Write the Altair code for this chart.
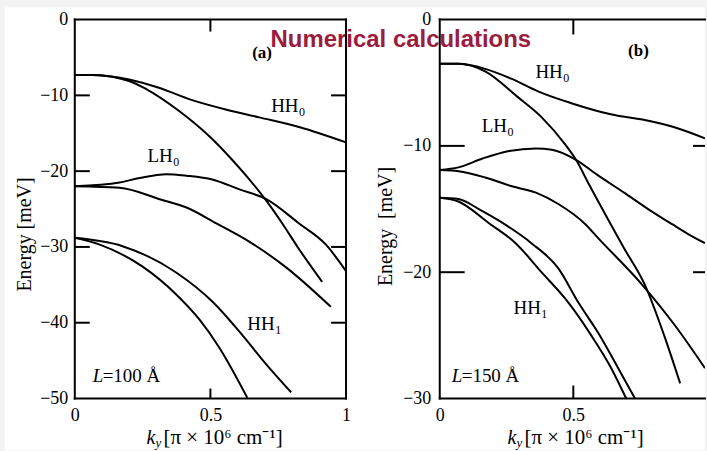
import altair as alt
import pandas as pd

SERIF = "Liberation Serif"
SANS = "Liberation Sans"

# ---------------- Panel (a): well width L = 100 Å ----------------
A_HH0_K = [0.0, 0.066, 0.20, 0.31, 0.43, 0.56, 0.68, 0.83, 1.0]
A_HH0_E = [-7.3, -7.3, -7.9, -9.0, -10.6, -11.9, -12.9, -14.2, -16.2]
A_HH0B_K = [0.0, 0.066, 0.20, 0.265, 0.386, 0.496, 0.58, 0.706, 0.765, 0.827, 0.912]
A_HH0B_E = [-7.3, -7.3, -8.1, -9.2, -12.1, -15.4, -18.5, -23.9, -26.9, -30.3, -34.6]
A_LH0_K = [0.0, 0.165, 0.239, 0.338, 0.412, 0.507, 0.607, 0.706, 0.827, 0.926, 1.0]
A_LH0_E = [-22.0, -21.5, -20.9, -20.4, -20.6, -21.1, -22.4, -23.7, -26.9, -29.7, -33.2]
A_LH0B_K = [0.0, 0.165, 0.313, 0.412, 0.522, 0.643, 0.779, 0.944]
A_LH0B_E = [-22.0, -22.2, -23.7, -24.8, -26.9, -29.3, -32.7, -37.9]
A_HH1_K = [0.0, 0.176, 0.375, 0.507, 0.617, 0.706, 0.798]
A_HH1_E = [-28.8, -29.9, -33.4, -37.2, -41.6, -45.5, -49.2]
A_HH1B_K = [0.0, 0.092, 0.25, 0.375, 0.46, 0.533, 0.636]
A_HH1B_E = [-28.8, -29.7, -32.6, -36.3, -39.6, -43.3, -49.9]

A_YTICKS = [0, -10, -20, -30, -40, -50]
A_XTICKS = [0, 0.5, 1]
A_BAND_LABELS = [("HH", "0", 0.724, -12.2), ("LH", "0", 0.268, -18.8), ("HH", "1", 0.636, -41.0)]
A_WELL = ("100 Å", 0.066, -47.8)
A_TAG = ("(a)", 0.654, -5.1)

# ---------------- Panel (b): well width L = 150 Å ----------------
B_HH0_K = [0.0, 0.07, 0.17, 0.27, 0.37, 0.49, 0.64, 0.79, 0.89, 0.993]
B_HH0_E = [-3.5, -3.5, -3.9, -4.7, -5.7, -6.6, -7.5, -8.05, -8.6, -9.4]
B_HH0B_K = [0.0, 0.07, 0.17, 0.29, 0.38, 0.47, 0.51, 0.56, 0.64, 0.69, 0.77, 0.84, 0.90]
B_HH0B_E = [-3.5, -3.5, -4.1, -6.1, -7.7, -9.9, -11.1, -13.1, -16.2, -18.1, -21.1, -25.0, -28.8]
B_LH0_K = [0.0, 0.07, 0.16, 0.26, 0.36, 0.42, 0.51, 0.59, 0.69, 0.78, 0.87, 0.94, 0.993]
B_LH0_E = [-11.9, -11.7, -11.0, -10.4, -10.2, -10.3, -11.1, -12.3, -13.7, -15.0, -16.2, -17.1, -17.7]
B_LH0B_K = [0.0, 0.07, 0.17, 0.27, 0.36, 0.444, 0.545, 0.593, 0.754, 0.88, 0.993]
B_LH0B_E = [-11.9, -12.0, -12.5, -13.2, -13.7, -14.6, -16.2, -17.3, -20.9, -24.2, -27.6]
B_HH1_K = [0.0, 0.07, 0.146, 0.22, 0.343, 0.444, 0.519, 0.593, 0.668, 0.731]
B_HH1_E = [-14.1, -14.2, -15.0, -15.9, -17.7, -19.7, -22.4, -24.8, -27.6, -30.0]
B_HH1B_K = [0.0, 0.07, 0.183, 0.284, 0.381, 0.47, 0.567, 0.642, 0.698]
B_HH1B_E = [-14.1, -14.4, -16.1, -17.7, -20.0, -22.1, -25.0, -27.6, -30.0]

B_YTICKS = [0, -10, -20, -30]
B_XTICKS = [0, 0.5]
B_BAND_LABELS = [("HH", "0", 0.358, -4.6), ("LH", "0", 0.157, -8.9), ("HH", "1", 0.276, -23.3)]
B_WELL = ("150 Å", 0.045, -28.7)
B_TAG = ("(b)", 0.705, -2.85)

TITLE = "Numerical calculations"

H = 380
STROKE = 2
# approximate Liberation Serif advance widths (em) for the band-label letters
GLYPH_EM = {"H": 0.722, "L": 0.611}


def curve_frame(curves):
    rows = []
    for name, ks, es in curves:
        for i, (k, e) in enumerate(zip(ks, es)):
            rows.append({"band": name, "k": k, "E": e, "i": i})
    return pd.DataFrame(rows)


def one_row(**kw):
    return pd.DataFrame([kw])


def panel(curves, yticks, xticks, x_max, width, band_labels, well, tag,
          label_pad, title_pad, title_y, y_title, in_len_left, in_len_right,
          top_len, bottom_len, xtitle_x, right_frame, under=None, extra=None):
    xs = alt.Scale(domain=[0, x_max], nice=False, zero=False)
    ys = alt.Scale(domain=[min(yticks), 0], nice=False, zero=False)
    x_axis = alt.Axis(values=xticks, format="~r", labelFlush=False, labelPadding=8,
                      title=None, zindex=1)
    y_axis = alt.Axis(values=yticks, format="~r", labelPadding=label_pad, title=y_title,
                      titlePadding=title_pad, titleY=title_y, zindex=1)

    def X(field="k:Q"):
        return alt.X(field, scale=xs, axis=x_axis)

    def Y(field="E:Q"):
        return alt.Y(field, scale=ys, axis=y_axis)

    layers = [] if under is None else [under]
    layers.append(alt.Chart(curve_frame(curves)).mark_line(
        color="black", strokeWidth=STROKE, interpolate="monotone", clip=True
    ).encode(x=X(), y=Y(), detail="band:N", order="i:Q"))

    # band labels with subscripts
    for main, sub, k, e in band_labels:
        base = alt.Chart(one_row(k=k, E=e, main=main, sub=sub)).encode(x=X(), y=Y())
        layers.append(base.mark_text(font=SERIF, fontSize=19, align="left",
                                     baseline="alphabetic", color="black").encode(text="main:N"))
        dx = sum(GLYPH_EM[c] for c in main) * 19 + 0.5
        layers.append(base.mark_text(font=SERIF, fontSize=12, align="left", dx=dx, dy=4,
                                     baseline="alphabetic", color="black").encode(text="sub:N"))

    # well width annotation: italic L followed by the value
    wtext, wk, we = well
    wbase = alt.Chart(one_row(k=wk, E=we, L="L", rest="=" + wtext)).encode(x=X(), y=Y())
    layers.append(wbase.mark_text(font=SERIF, fontSize=19, fontStyle="italic", align="left",
                                  baseline="alphabetic", color="black").encode(text="L:N"))
    layers.append(wbase.mark_text(font=SERIF, fontSize=19, align="left", dx=10,
                                  baseline="alphabetic", color="black").encode(text="rest:N"))

    # panel tag
    ttext, tk, te = tag
    layers.append(alt.Chart(one_row(k=tk, E=te, t=ttext)).mark_text(
        font=SERIF, fontSize=17, fontWeight="bold", align="left", baseline="alphabetic",
        color="black").encode(x=X(), y=Y(), text="t:N"))

    # x-axis title: italic k with subscript y, then units
    xt = one_row(a="k", b="y", c="[π × 10⁶ cm⁻¹]")
    ty = H + 46
    layers.append(alt.Chart(xt).mark_text(font=SERIF, fontSize=20, fontStyle="italic",
                                          align="left", baseline="alphabetic", color="black")
                  .encode(x=alt.value(xtitle_x), y=alt.value(ty), text="a:N"))
    layers.append(alt.Chart(xt).mark_text(font=SERIF, fontSize=13, fontStyle="italic",
                                          align="left", baseline="alphabetic", color="black")
                  .encode(x=alt.value(xtitle_x + 9), y=alt.value(ty + 3), text="b:N"))
    layers.append(alt.Chart(xt).mark_text(font=SERIF, fontSize=21, align="left",
                                          baseline="alphabetic", color="black")
                  .encode(x=alt.value(xtitle_x + 17), y=alt.value(ty), text="c:N"))

    if extra is not None:
        layers.append(extra)

    # inward tick marks
    inner_y = pd.DataFrame({"E": [v for v in yticks if min(yticks) < v < 0]})
    inner_x = pd.DataFrame({"k": [v for v in xticks if 0 < v < x_max]})
    tick = dict(color="black", strokeWidth=STROKE)
    layers.append(alt.Chart(inner_y).mark_rule(**tick).encode(
        y=Y(), x=alt.value(0), x2=alt.value(in_len_left)))
    layers.append(alt.Chart(inner_y).mark_rule(**tick).encode(
        y=Y(), x=alt.value(width - in_len_right), x2=alt.value(width)))
    layers.append(alt.Chart(inner_x).mark_rule(**tick).encode(
        x=X(), y=alt.value(0), y2=alt.value(top_len)))
    layers.append(alt.Chart(inner_x).mark_rule(**tick).encode(
        x=X(), y=alt.value(H - bottom_len), y2=alt.value(H)))

    # frame
    f = one_row(z=0)
    fr = dict(strokeWidth=STROKE, color="black", strokeCap="square")
    layers.append(alt.Chart(f).mark_rule(**fr).encode(
        x=alt.value(0), x2=alt.value(width), y=alt.value(0)))
    layers.append(alt.Chart(f).mark_rule(**fr).encode(
        x=alt.value(0), x2=alt.value(width), y=alt.value(H)))
    layers.append(alt.Chart(f).mark_rule(**fr).encode(
        x=alt.value(0), y=alt.value(0), y2=alt.value(H)))
    if right_frame:
        layers.append(alt.Chart(f).mark_rule(**fr).encode(
            x=alt.value(width), y=alt.value(0), y2=alt.value(H)))

    return alt.layer(*layers).properties(width=width, height=H)


WA = 272
# white page sheet behind both panels; the grey canvas shows as a thin top/left margin
sheet = alt.Chart(one_row(z=0)).mark_rect(color="white").encode(
    x=alt.value(-70), x2=alt.value(632), y=alt.value(-12), y2=alt.value(432))

title_layer = alt.Chart(one_row(t=TITLE)).mark_text(
    font=SANS, fontSize=24, fontWeight="bold", color="#9b1c3c",
    align="center", baseline="alphabetic"
).encode(x=alt.value(327), y=alt.value(27.5), text="t:N")

panel_a = panel(
    curves=[("HH0", A_HH0_K, A_HH0_E), ("HH0b", A_HH0B_K, A_HH0B_E),
            ("LH0", A_LH0_K, A_LH0_E), ("LH0b", A_LH0B_K, A_LH0B_E),
            ("HH1", A_HH1_K, A_HH1_E), ("HH1b", A_HH1B_K, A_HH1B_E)],
    yticks=A_YTICKS, xticks=A_XTICKS, x_max=1.0, width=WA,
    band_labels=A_BAND_LABELS, well=A_WELL, tag=A_TAG,
    label_pad=7, title_pad=5, title_y=215, y_title="Energy [meV]",
    in_len_left=15, in_len_right=15, top_len=12, bottom_len=10,
    xtitle_x=72, right_frame=True, under=sheet, extra=title_layer)

WB = 266
panel_b = panel(
    curves=[("HH0", B_HH0_K, B_HH0_E), ("HH0b", B_HH0B_K, B_HH0B_E),
            ("LH0", B_LH0_K, B_LH0_E), ("LH0b", B_LH0B_K, B_LH0B_E),
            ("HH1", B_HH1_K, B_HH1_E), ("HH1b", B_HH1B_K, B_HH1B_E)],
    yticks=B_YTICKS, xticks=B_XTICKS, x_max=0.993, width=WB,
    band_labels=B_BAND_LABELS, well=B_WELL, tag=B_TAG,
    label_pad=9, title_pad=7, title_y=207, y_title="Energy\u00a0 [meV]",
    in_len_left=25, in_len_right=12, top_len=15, bottom_len=13,
    xtitle_x=68, right_frame=False)

chart = alt.hconcat(panel_a, panel_b, spacing=94, bounds="flush").properties(
    padding={"left": 5, "top": 7, "right": 0, "bottom": 0}
).configure(background="#f3f3f3").configure_view(stroke=None).configure_axis(
    domain=False, ticks=False, grid=False,
    labelFont=SERIF, labelFontSize=18, labelColor="black",
    titleFont=SERIF, titleFontSize=20, titleFontWeight="normal", titleColor="black",
)

chart.save("out.html", embed_options={"renderer": "svg", "actions": False})
